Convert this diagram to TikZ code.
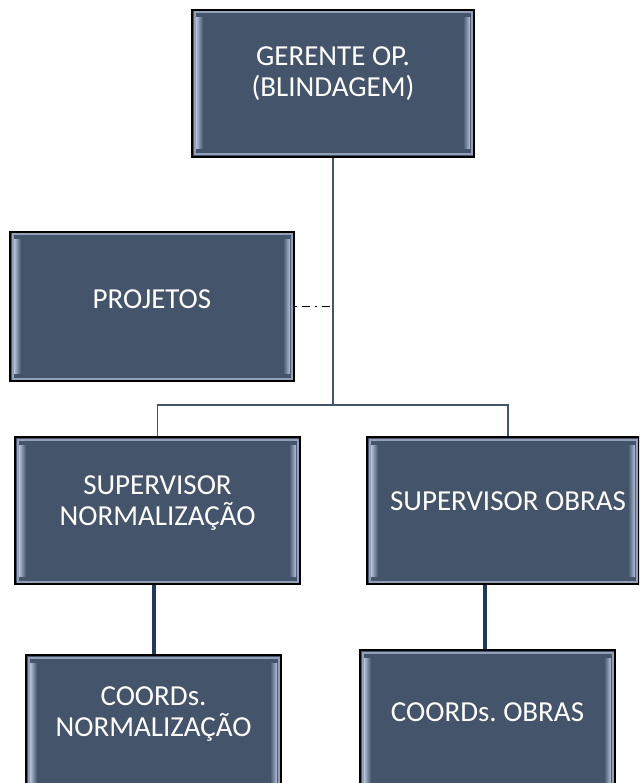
\documentclass[tikz,border=0pt]{standalone}
\usepackage{fontspec}
\setmainfont{Carlito}
\usepackage{tikz}
\frenchspacing
\definecolor{boxfill}{HTML}{44546A}
\definecolor{bevel}{HTML}{B4C2D8}
\definecolor{linkblue}{HTML}{203864}
\tikzset{
  orgbox/.style={draw=black, line width=1.2pt, fill=boxfill, rectangle, inner sep=0pt,
    path picture={
      \draw[bevel!70!boxfill, line width=2pt]
        ([xshift=2.5pt,yshift=2.5pt]path picture bounding box.south west) rectangle
        ([xshift=-2.5pt,yshift=-2.5pt]path picture bounding box.north east);
      \fill[left color=bevel, right color=boxfill]
        ([xshift=4pt,yshift=8pt]path picture bounding box.south west) rectangle
        ([xshift=11pt,yshift=-8pt]path picture bounding box.north west);
      \fill[left color=boxfill, right color=bevel]
        ([xshift=-11pt,yshift=8pt]path picture bounding box.south east) rectangle
        ([xshift=-4pt,yshift=-8pt]path picture bounding box.north east);
    }},
  boxtext/.style={text=white, align=center, font=\fontsize{29}{31}\selectfont},
  toplink/.style={draw=boxfill, line width=1.6pt},
  lowlink/.style={draw=linkblue, line width=4pt}
}
\begin{document}
\begin{tikzpicture}[x=1pt, y=-1pt]
		\useasboundingbox (0,0) rectangle (639,783);
		\begin{scope}
		\clip (0,0) rectangle (639,783);
		% Boxes
		\node[orgbox, minimum width=282pt, minimum height=147pt] (gerente) at (333,83.5) {};
		\node[orgbox, minimum width=284pt, minimum height=149pt] (projetos) at (152,306.5) {};
		\node[orgbox, minimum width=285pt, minimum height=147pt] (supnorm) at (157.5,510.5) {};
		\node[orgbox, minimum width=272pt, minimum height=147pt] (supobras) at (503,510.5) {};
		\node[orgbox, minimum width=255pt, minimum height=147pt] (coordnorm) at (153.5,728.5) {};
		\node[orgbox, minimum width=255pt, minimum height=147pt] (coordobras) at (487.5,723.5) {};
		
		% Texts
		\node[boxtext] (tgerente) at (333,74) {GERENTE OP.\\(BLINDAGEM)};
		\node[boxtext] (tprojetos) at (152,299) {PROJETOS};
		\node[boxtext] (tsupnorm) at (157.5,503) {SUPERVISOR\\NORMALIZAÇÃO};
		\node[boxtext] (tsupobras) at (508,501) {SUPERVISOR OBRAS};
		\node[boxtext] (tcoordnorm) at (153.5,714) {COORDs.\\NORMALIZAÇÃO};
		\node[boxtext] (tcoordobras) at (487.5,712) {COORDs. OBRAS};
		
		% Connections
		\coordinate (split) at (333,405);
		\draw[toplink] (gerente.south) -- (split);
		\draw[toplink] (supnorm.north) |- (split) -| ([xshift=5pt]supobras.north);
		\draw[black, line width=1.3pt, dash pattern=on 2pt off 5pt on 8pt off 5pt] (projetos.east) -- (projetos.east -| split);
		
		\draw[lowlink] (coordnorm.north) -- (coordnorm.north |- supnorm.south);
		\draw[lowlink] ([xshift=-3pt]coordobras.north) -- ([xshift=-3pt]coordobras.north |- supobras.south);
		\end{scope}
	\end{tikzpicture}
\end{document}
